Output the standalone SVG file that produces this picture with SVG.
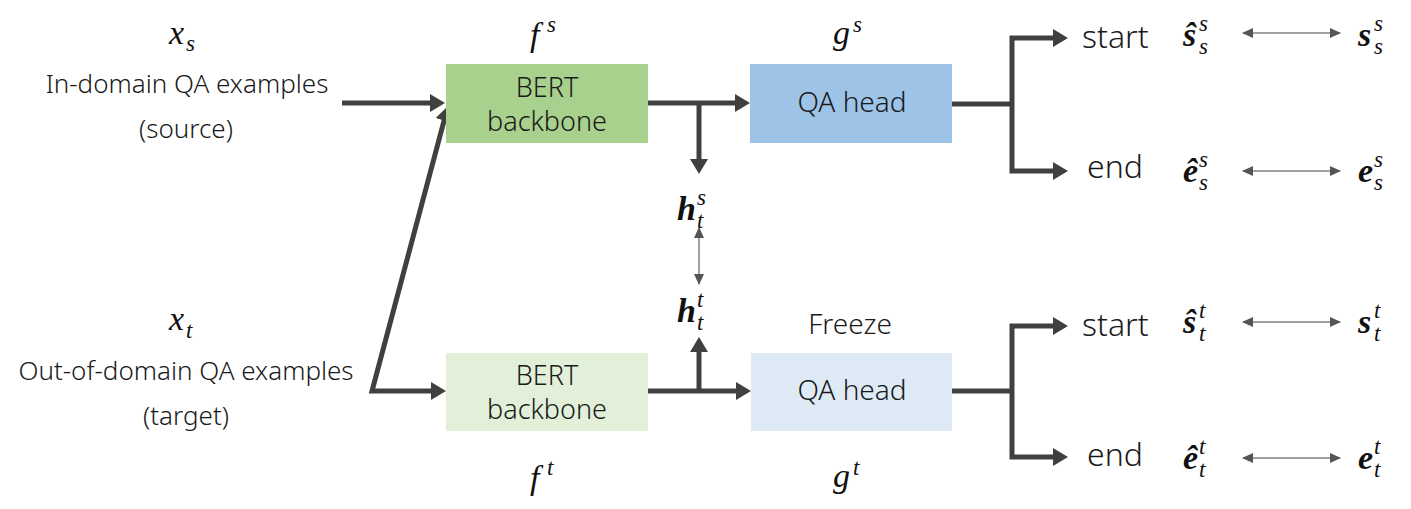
<svg xmlns="http://www.w3.org/2000/svg" width="1411" height="509" viewBox="0 0 1411 509">
<style>
.lbl{font-family:"Noto Sans","Liberation Sans",sans-serif;font-weight:300;font-size:26px;fill:#1a1a1a;text-anchor:middle}
.box{font-family:"Noto Sans","Liberation Sans",sans-serif;font-weight:300;font-size:28px;fill:#1a1a1a;text-anchor:middle}
.bx2{font-family:"Noto Sans","Liberation Sans",sans-serif;font-weight:300;font-size:27px;fill:#1a1a1a;text-anchor:middle}
.big{font-family:"Noto Sans","Liberation Sans",sans-serif;font-weight:300;font-size:32px;fill:#1a1a1a}
.m{font-family:"Liberation Serif","DejaVu Serif",serif;font-style:italic;font-size:34px;fill:#111}
.mb{font-family:"Liberation Serif","DejaVu Serif",serif;font-style:italic;font-weight:bold;font-size:34px;fill:#111}
.ms{font-family:"Liberation Serif","DejaVu Serif",serif;font-style:italic;font-size:23px;fill:#111}
.thick{fill:none;stroke:#404040;stroke-width:5}
.thin{fill:none;stroke:#808080;stroke-width:1.5}
</style>
<defs>
<marker id="ah" markerUnits="userSpaceOnUse" markerWidth="16" markerHeight="18" refX="5" refY="9" orient="auto-start-reverse">
<path d="M0,0 L15,9 L0,18 z" fill="#404040"/>
</marker>
<marker id="at" markerUnits="userSpaceOnUse" markerWidth="11" markerHeight="10" refX="10" refY="5" orient="auto-start-reverse">
<path d="M0,0 L11,5 L0,10 z" fill="#555555"/>
</marker>
</defs>
<rect width="1411" height="509" fill="#ffffff"/>

<g id="connectors">
<path class="thick" d="M342,103 L435,103" marker-end="url(#ah)"/>
<path class="thick" d="M445.4,115.7 L372,391 L436,391" marker-start="url(#ah)" marker-end="url(#ah)"/>
<path class="thick" d="M648,103 L740,103" marker-end="url(#ah)"/>
<path class="thick" d="M699,103 L699,164" marker-end="url(#ah)"/>
<path class="thin" d="M699,228 L699,284" marker-start="url(#at)" marker-end="url(#at)"/>
<path class="thick" d="M648,391 L741,391" marker-end="url(#ah)"/>
<path class="thick" d="M699,391 L699,347" marker-end="url(#ah)"/>
<path class="thick" d="M952,104 L1012,104"/>
<path class="thick" d="M1058,38 L1012,38 L1012,171 L1058,171" marker-start="url(#ah)" marker-end="url(#ah)"/>
<path class="thick" d="M952,391 L1012,391"/>
<path class="thick" d="M1058,326 L1012,326 L1012,457 L1058,457" marker-start="url(#ah)" marker-end="url(#ah)"/>
<path class="thin" d="M1243,33 L1340,33" marker-start="url(#at)" marker-end="url(#at)"/>
<path class="thin" d="M1243,171 L1340,171" marker-start="url(#at)" marker-end="url(#at)"/>
<path class="thin" d="M1243,322 L1340,322" marker-start="url(#at)" marker-end="url(#at)"/>
<path class="thin" d="M1243,458 L1340,458" marker-start="url(#at)" marker-end="url(#at)"/>
</g>

<g id="source-input">
<text class="m" x="169" y="44">x</text><text class="ms" x="186" y="51">s</text>
<text class="lbl" x="187" y="93">In-domain QA examples</text>
<text class="lbl" x="186" y="138">(source)</text>
</g>

<g id="target-input">
<text class="m" x="169" y="330">x</text><text class="ms" x="186" y="338">t</text>
<text class="lbl" x="186" y="380">Out-of-domain QA examples</text>
<text class="lbl" x="186" y="425">(target)</text>
</g>

<g id="bert-source">
<rect x="446" y="64" width="202" height="79" fill="#A9D18E"/>
<text class="bx2" x="547" y="97">BERT</text>
<text class="bx2" x="547" y="131">backbone</text>
<text class="m" x="530" y="46">f</text><text class="ms" x="547" y="32">s</text>
</g>

<g id="qa-head-source">
<rect x="750" y="64" width="202" height="79" fill="#9DC3E6"/>
<text class="box" x="852" y="112">QA head</text>
<text class="m" x="833" y="44">g</text><text class="ms" x="853" y="32">s</text>
</g>

<g id="bert-target">
<rect x="446" y="353" width="202" height="78" fill="#E2F0D9"/>
<text class="bx2" x="547" y="385">BERT</text>
<text class="bx2" x="547" y="419">backbone</text>
<text class="m" x="530" y="489">f</text><text class="ms" x="547" y="475">t</text>
</g>

<g id="qa-head-target">
<rect x="751" y="353" width="201" height="78" fill="#DEEBF7"/>
<text class="box" x="852" y="400">QA head</text>
<text class="box" x="850" y="334">Freeze</text>
<text class="m" x="833" y="487">g</text><text class="ms" x="853" y="475">t</text>
</g>

<g id="hidden-source">
<text class="mb" x="677" y="220">h</text><text class="ms" x="697" y="205">s</text><text class="ms" x="697" y="228">t</text>
</g>

<g id="hidden-target">
<text class="mb" x="677" y="322">h</text><text class="ms" x="697" y="307">t</text><text class="ms" x="697" y="330">t</text>
</g>

<g id="source-start">
<text class="big" x="1082" y="48">start</text>
<text class="mb" x="1183" y="46">ŝ</text><text class="ms" x="1199" y="31">s</text><text class="ms" x="1199" y="54">s</text>
<text class="mb" x="1358" y="46">s</text><text class="ms" x="1374" y="31">s</text><text class="ms" x="1374" y="54">s</text>
</g>

<g id="source-end">
<text class="big" x="1087" y="178">end</text>
<text class="mb" x="1183" y="182">ê</text><text class="ms" x="1199" y="167">s</text><text class="ms" x="1199" y="190">s</text>
<text class="mb" x="1358" y="182">e</text><text class="ms" x="1374" y="167">s</text><text class="ms" x="1374" y="190">s</text>
</g>

<g id="target-start">
<text class="big" x="1082" y="336">start</text>
<text class="mb" x="1183" y="333">ŝ</text><text class="ms" x="1199" y="318">t</text><text class="ms" x="1199" y="341">t</text>
<text class="mb" x="1358" y="333">s</text><text class="ms" x="1374" y="318">t</text><text class="ms" x="1374" y="341">t</text>
</g>

<g id="target-end">
<text class="big" x="1087" y="466">end</text>
<text class="mb" x="1183" y="469">ê</text><text class="ms" x="1199" y="454">t</text><text class="ms" x="1199" y="477">t</text>
<text class="mb" x="1358" y="469">e</text><text class="ms" x="1374" y="454">t</text><text class="ms" x="1374" y="477">t</text>
</g>
</svg>
